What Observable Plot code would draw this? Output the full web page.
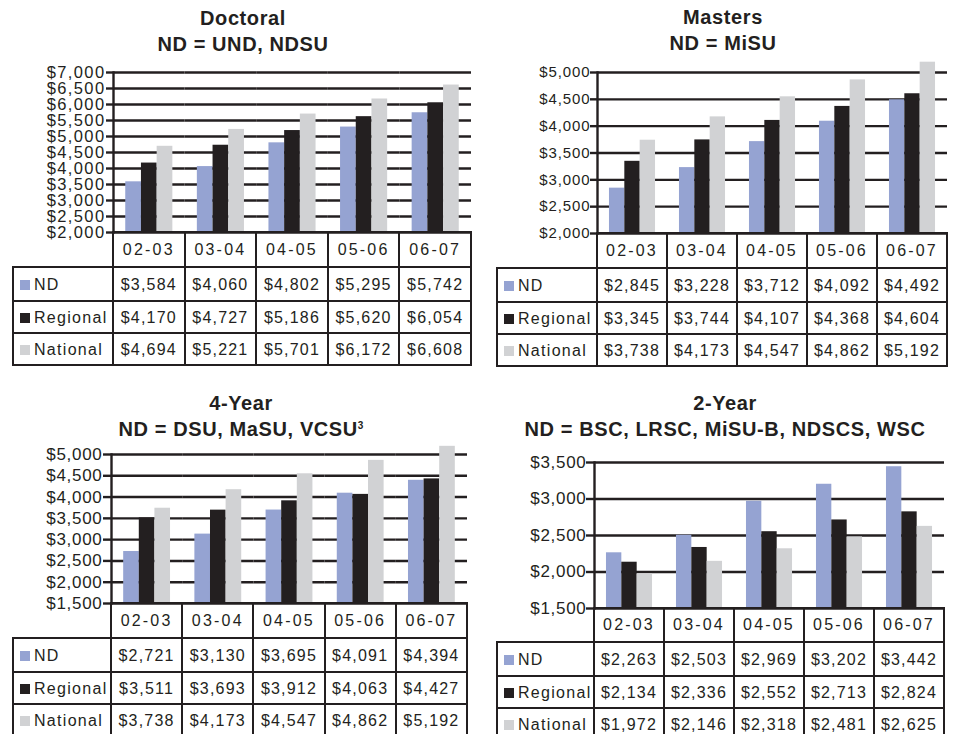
<!DOCTYPE html>
<html>
<head>
<meta charset="utf-8">
<script src="https://cdn.jsdelivr.net/npm/d3@7"></script>
<script src="https://cdn.jsdelivr.net/npm/@observablehq/plot@0.6"></script>
<style>
  html, body { margin: 0; padding: 0; background: #fff; }
  #page {
    position: relative; width: 953px; height: 734px; overflow: hidden; background: #fff;
    font-family: "Liberation Sans", Arial, sans-serif; color: #231f20;
  }
  .title {
    position: absolute; width: 480px; text-align: center; font-weight: bold;
    font-size: 20px; line-height: 26px; letter-spacing: 0.6px; white-space: nowrap;
  }
  .title sup { font-size: 10px; line-height: 0; letter-spacing: 0; vertical-align: 7px; }
  .chart { position: absolute; }
  .chart svg { overflow: visible; }
  .cell {
    position: absolute; box-sizing: border-box; border: 2px solid #231f20;
    display: flex; align-items: center; justify-content: center;
    font-size: 16px; letter-spacing: 1.2px; white-space: nowrap; padding-top: 2px;
  }
  .cell.head { letter-spacing: 2.2px; padding-top: 0; }
  .cell.label { justify-content: flex-start; padding-left: 6px; letter-spacing: 1.3px; }
  .swatch { display: inline-block; width: 10px; height: 10px; margin-right: 4px; }
</style>
</head>
<body>
<div id="page"></div>
<script>
// School years shown in every panel
const categories = ["02-03", "03-04", "04-05", "05-06", "06-07"];
const seriesNames = ["ND", "Regional", "National"];
const seriesColors = ["#95a3d2", "#231f20", "#d1d2d4"];

// Doctoral institutions (UND, NDSU)
const doctoralTitle = ["Doctoral", "ND = UND, NDSU"];
const doctoralND = [3584, 4060, 4802, 5295, 5742];
const doctoralRegional = [4170, 4727, 5186, 5620, 6054];
const doctoralNational = [4694, 5221, 5701, 6172, 6608];
const doctoralTicks = [2000, 2500, 3000, 3500, 4000, 4500, 5000, 5500, 6000, 6500, 7000];

// Masters institutions (MiSU)
const mastersTitle = ["Masters", "ND = MiSU"];
const mastersND = [2845, 3228, 3712, 4092, 4492];
const mastersRegional = [3345, 3744, 4107, 4368, 4604];
const mastersNational = [3738, 4173, 4547, 4862, 5192];
const mastersTicks = [2000, 2500, 3000, 3500, 4000, 4500, 5000];

// 4-year institutions (DSU, MaSU, VCSU)
const fourYearTitle = ["4-Year", "ND = DSU, MaSU, VCSU"];
const fourYearNote = "3";
const fourYearND = [2721, 3130, 3695, 4091, 4394];
const fourYearRegional = [3511, 3693, 3912, 4063, 4427];
const fourYearNational = [3738, 4173, 4547, 4862, 5192];
const fourYearTicks = [1500, 2000, 2500, 3000, 3500, 4000, 4500, 5000];

// 2-year institutions (BSC, LRSC, MiSU-B, NDSCS, WSC)
const twoYearTitle = ["2-Year", "ND = BSC, LRSC, MiSU-B, NDSCS, WSC"];
const twoYearND = [2263, 2503, 2969, 3202, 3442];
const twoYearRegional = [2134, 2336, 2552, 2713, 2824];
const twoYearNational = [1972, 2146, 2318, 2481, 2625];
const twoYearTicks = [1500, 2000, 2500, 3000, 3500];

const ink = "#231f20";
const fmt = d3.format(",");
const money = v => "$" + fmt(v);
const page = document.getElementById("page");

// Layout of each panel, in page pixels
const panels = [
  {title: doctoralTitle, series: [doctoralND, doctoralRegional, doctoralNational], ticks: doctoralTicks,
   left: 0, axisX: 113, right: 471, yTop: 72, yBottom: 232, tableLeft: 13,
   rowEdges: [232, 267, 301, 333, 365], titleCenter: 243, titleTop: 5,
   yFont: 16.5, yLs: 1.4, tickSize: 7, tickPad: 1},
  {title: mastersTitle, series: [mastersND, mastersRegional, mastersNational], ticks: mastersTicks,
   left: 480, axisX: 597, right: 947, yTop: 72, yBottom: 233, tableLeft: 497,
   rowEdges: [233, 268, 302, 334, 366], titleCenter: 723, titleTop: 4,
   yFont: 15, yLs: 0.9, tickSize: 7, tickPad: 0},
  {title: fourYearTitle, note: fourYearNote, series: [fourYearND, fourYearRegional, fourYearNational], ticks: fourYearTicks,
   left: 0, axisX: 111, right: 467, yTop: 454, yBottom: 603, tableLeft: 13,
   rowEdges: [603, 638, 672, 704, 736], titleCenter: 241, titleTop: 390,
   yFont: 17, yLs: 0.7, tickSize: 8, tickPad: 1},
  {title: twoYearTitle, series: [twoYearND, twoYearRegional, twoYearNational], ticks: twoYearTicks,
   left: 480, axisX: 594, right: 944, yTop: 462, yBottom: 608, tableLeft: 497,
   rowEdges: [608, 642, 676, 708, 740], titleCenter: 725, titleTop: 390,
   yFont: 17, yLs: 0.7, tickSize: 8, tickPad: 0}
];

function addCell(cls, x, y, w, h, content) {
  const d = document.createElement("div");
  d.className = "cell " + cls;
  d.style.left = x + "px"; d.style.top = y + "px";
  d.style.width = w + "px"; d.style.height = h + "px";
  if (typeof content === "string") d.textContent = content; else d.appendChild(content);
  page.appendChild(d);
}

function drawPanel(p) {
  // Title
  const t = document.createElement("div");
  t.className = "title";
  t.style.left = (p.titleCenter - 240) + "px";
  t.style.top = p.titleTop + "px";
  t.innerHTML = p.title[0] + "<br>" + p.title[1] + (p.note ? "<sup>" + p.note + "</sup>" : "");
  page.appendChild(t);

  // Long-format rows for the grouped bars
  const rows = [];
  categories.forEach((c, i) => p.series.forEach((vals, j) =>
    rows.push({category: c, series: seriesNames[j], value: vals[i]})));

  const mt = 24, mb = 1, mr = 6;
  const yMin = p.ticks[0], yMax = p.ticks[p.ticks.length - 1];
  const chart = Plot.plot({
    width: p.right - p.left + mr,
    height: p.yBottom - p.yTop + mt + mb,
    marginLeft: p.axisX - p.left, marginRight: mr, marginTop: mt, marginBottom: mb,
    style: {fontFamily: '"Liberation Sans", Arial, sans-serif', color: ink, background: "transparent", overflow: "visible"},
    fx: {domain: categories, padding: 0, round: false, axis: null},
    x: {domain: seriesNames, paddingInner: 0, paddingOuter: 0.78, round: false, axis: null},
    y: {domain: [yMin, yMax], axis: null},
    color: {domain: seriesNames, range: seriesColors},
    marks: [
      Plot.ruleY(p.ticks, {stroke: ink, strokeWidth: 2.4}),
      Plot.barY(rows, {fx: "category", x: "series", y1: yMin, y2: "value", fill: "series"}),
      Plot.frame({anchor: "left", facetAnchor: "left", stroke: ink, strokeWidth: 2.4}),
      Plot.axisY({ticks: p.ticks, tickFormat: money, tickSize: p.tickSize, tickPadding: p.tickPad,
                  label: null, stroke: ink, strokeWidth: 2.4, fill: ink, fontSize: p.yFont})
    ]
  });
  chart.style.letterSpacing = p.yLs + "px";
  chart.querySelectorAll("text").forEach(el => { el.style.fontSize = p.yFont + "px"; });
  const holder = document.createElement("div");
  holder.className = "chart";
  holder.style.left = p.left + "px";
  holder.style.top = (p.yTop - mt) + "px";
  holder.appendChild(chart);
  page.appendChild(holder);

  // Data table below the chart, columns aligned on the fx bands
  const fx = chart.scale("fx");
  const bw = fx.bandwidth;
  const e = p.rowEdges;
  categories.forEach(c => {
    const x0 = p.left + fx.apply(c);
    addCell("head", x0 - 1, e[0] - 1, bw + 2, e[1] - e[0] + 2, c);
  });
  seriesNames.forEach((s, j) => {
    const y0 = e[j + 1], y1 = e[j + 2];
    const lab = document.createElement("span");
    const sw = document.createElement("span");
    sw.className = "swatch";
    sw.style.background = seriesColors[j];
    lab.appendChild(sw);
    lab.appendChild(document.createTextNode(s));
    addCell("label", p.tableLeft - 1, y0 - 1, p.axisX - p.tableLeft + 2, y1 - y0 + 2, lab);
    categories.forEach((c, i) => {
      const x0 = p.left + fx.apply(c);
      addCell("val", x0 - 1, y0 - 1, bw + 2, y1 - y0 + 2, money(p.series[j][i]));
    });
  });
}

panels.forEach(drawPanel);
</script>
</body>
</html>
